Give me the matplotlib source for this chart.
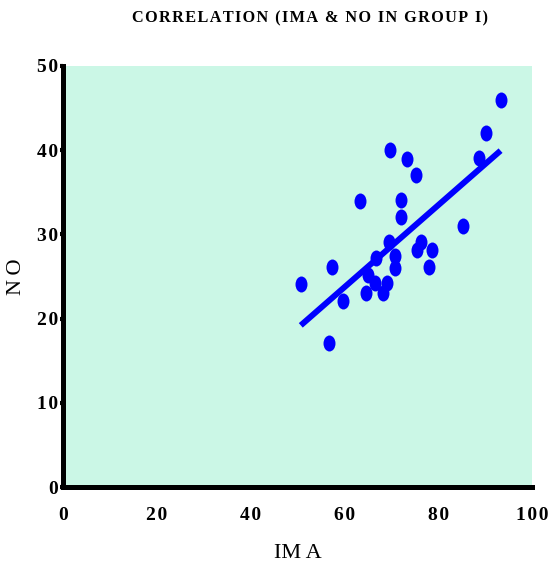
import numpy as np
import matplotlib
matplotlib.use("Agg")
import matplotlib.pyplot as plt
from matplotlib.markers import MarkerStyle
from matplotlib.transforms import Affine2D

# values
ima = [93.3, 90.3, 88.6, 69.7, 73.3, 75.3, 63.3, 72.1, 72.0, 85.3,
       69.6, 76.3, 75.4, 78.6, 78.1, 66.7, 70.8, 70.8, 57.3, 50.7,
       65.1, 66.5, 69.0, 64.6, 68.3, 59.7, 56.8]
no = [46.0, 42.0, 39.1, 40.0, 39.0, 37.0, 34.0, 34.1, 32.1, 31.0,
      29.1, 29.1, 28.1, 28.1, 26.1, 27.2, 27.4, 26.0, 26.1, 24.1,
      25.2, 24.2, 24.2, 23.1, 23.0, 22.1, 17.1]
# fitted line as drawn in the reference
fit_slope = 0.487
fit_intercept = -5.49
xticks = [0, 20, 40, 60, 80, 100]
yticks = [0, 10, 20, 30, 40, 50]

serif = ['Liberation Serif', 'DejaVu Serif']
hs = '\u200a'
ts = '\u2009'

fig = plt.figure(figsize=(5.49, 5.67), dpi=100)
ax = fig.add_axes([0.1148, 0.141, 0.969 - 0.1148, 0.8836 - 0.141])
ax.set_facecolor('#cbf7e6')

x = np.array(ima)
y = np.array(no)
xl = np.array([x.min(), x.max()])
ax.plot(xl, fit_slope * xl + fit_intercept, color='#0000ff', lw=4.3,
        solid_capstyle='butt', zorder=2)

mk = MarkerStyle('o', transform=Affine2D().scale(0.75, 1.0))
ax.plot(x, y, linestyle='none', marker=mk, markersize=11.5,
        color='#0000ff', markeredgewidth=0, zorder=3)

ax.set_xlim(0, 100)
ax.set_ylim(0, 50)
ax.set_xticks(xticks)
ax.set_yticks(yticks)
ax.set_xticklabels([hs.join(str(t)) for t in xticks], family=serif,
                   fontweight='bold', fontsize=14)
ax.set_yticklabels([hs.join(str(t)) for t in yticks], family=serif,
                   fontweight='bold', fontsize=14)
ax.tick_params(axis='both', direction='out', length=2.5, width=3, color='black')
ax.tick_params(axis='x', pad=12)
ax.tick_params(axis='y', pad=1)

for s in ['top', 'right']:
    ax.spines[s].set_visible(False)
for s in ['left', 'bottom']:
    ax.spines[s].set_linewidth(3.6)
    ax.spines[s].set_color('black')

ax.set_xlabel('IM' + ts + 'A', family=serif, fontsize=16, labelpad=14)
ax.set_ylabel('N' + ts + 'O', family=serif, fontsize=16, labelpad=8)

title = 'CORRELATION (IMA & NO IN GROUP I)'
fig.text(310 / 549, 1 - 18 / 567, hs.join(title), family=serif,
         fontweight='bold', fontsize=11.7, ha='center', va='center')

fig.savefig('out.png', dpi=100)
